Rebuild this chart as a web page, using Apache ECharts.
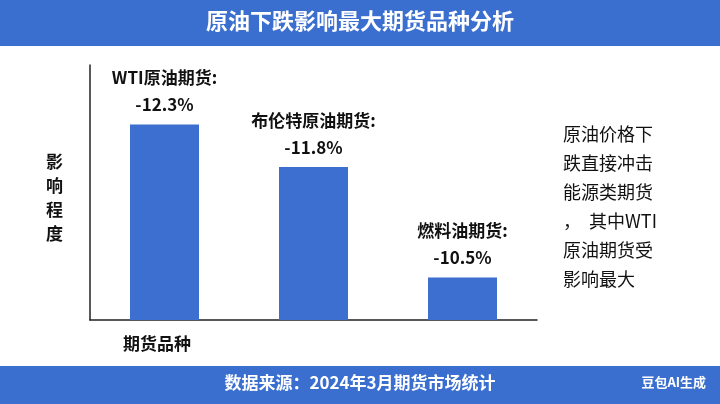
<!DOCTYPE html><html><head><meta charset="utf-8"><script src="https://cdn.jsdelivr.net/npm/echarts@6/dist/echarts.min.js"></script></head><body style="margin:0"><div id="c" style="width:720px;height:404px"></div><script>
const categories=['WTI原油期货','布伦特原油期货','燃料油期货'];
const values=[-12.3,-11.8,-10.5];
const F='"Noto Sans CJK SC","Noto Sans",sans-serif';
const c=echarts.init(document.getElementById('c'));
c.setOption({backgroundColor:'#fff',
graphic:[
{type:'rect',shape:{x:0,y:0,width:720,height:46},style:{fill:'#3a6fd0'}},
{type:'text',left:'center',top:10,style:{text:'原油下跌影响最大期货品种分析',fill:'#fff',font:'bold 22px '+F}},
{type:'rect',shape:{x:0,y:366,width:720,height:38},style:{fill:'#3a6fd0'}},
{type:'text',left:'center',top:374,style:{text:'数据来源：2024年3月期货市场统计',fill:'#fff',font:'bold 17px '+F}},
{type:'text',right:14,top:376,style:{text:'豆包AI生成',fill:'#fff',font:'bold 13px '+F}},
{type:'text',left:563,top:120,style:{text:'原油价格下\n跌直接冲击\n能源类期货\n，  其中WTI\n原油期货受\n影响最大',fill:'#111',font:'18px '+F,lineHeight:29}},
{type:'text',left:46,top:150,style:{text:'影\n响\n程\n度',fill:'#111',font:'bold 17px '+F,lineHeight:24}},
{type:'text',left:123,top:335,style:{text:'期货品种',fill:'#111',font:'bold 17px '+F}}
],
grid:{left:90,right:183,top:65,bottom:84},
xAxis:{type:'category',data:categories,axisLine:{lineStyle:{color:'#222',width:1.5}},axisTick:{show:false},axisLabel:{show:false}},
yAxis:{type:'value',min:10,max:13,axisLine:{show:true,lineStyle:{color:'#222',width:1.5}},splitLine:{show:false},axisLabel:{show:false},axisTick:{show:false}},
series:[{type:'bar',barWidth:69,data:values.map(v=>Math.abs(v)),itemStyle:{color:'#3d6fd1'},
label:{show:true,position:'top',distance:6,formatter:p=>categories[p.dataIndex]+':\n'+values[p.dataIndex]+'%',color:'#111',font:'bold 17px '+F,fontWeight:'bold',fontSize:17,fontFamily:F,lineHeight:27,align:'center'}}]
});
</script></body></html>
